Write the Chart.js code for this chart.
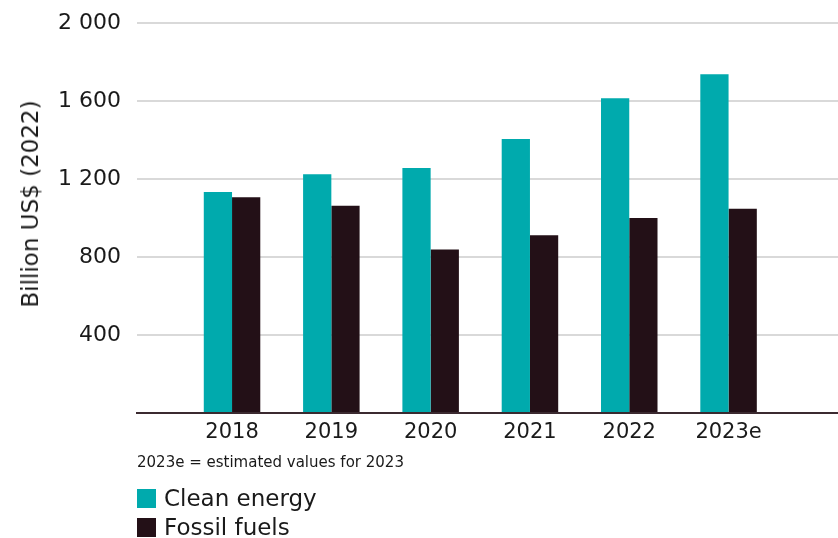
<!DOCTYPE html>
<html>
<head>
<meta charset="utf-8">
<script src="https://cdn.jsdelivr.net/npm/chart.js@4"></script>
<style>
    html, body { margin: 0; padding: 0; background: #fff; }
    #wrap { position: relative; width: 838px; height: 538px; }
    #y-title {
        position: absolute; left: 30px; top: 204px;
        transform: translate(-50%, -50%) rotate(-90deg);
        white-space: nowrap;
        font: 23px "DejaVu Sans", sans-serif; line-height: 28px; color: #1a1a1a;
    }
    #note {
        position: absolute; left: 137px; top: 453px;
        font: 15px "DejaVu Sans", sans-serif; line-height: 18px; color: #1a1a1a;
    }
    #legend { position: absolute; left: 137px; top: 484px; }
    .legend-item {
        display: flex; align-items: center; height: 29px;
        font: 23px "DejaVu Sans", sans-serif; line-height: 29px; color: #1a1a1a;
    }
    .legend-box { width: 19px; height: 19px; margin-right: 8px; }
</style>
</head>
<body>
<div id="wrap">
    <canvas id="chart" width="838" height="538"></canvas>
    <div id="y-title"></div>
    <div id="note"></div>
    <div id="legend"></div>
</div>
<script>
// Dados
const years = ['2018', '2019', '2020', '2021', '2022', '2023e'];
const cleanEnergy = [1133, 1224, 1256, 1405, 1614, 1737];
const fossilFuels = [1106, 1063, 838, 911, 1000, 1048];
const yTicks = [0, 400, 800, 1200, 1600, 2000];
const yTickLabels = ['', '400', '800', '1 200', '1 600', '2 000'];
const yTitle = 'Billion US$ (2022)';
const noteText = '2023e = estimated values for 2023';

const tealColor = '#00aaad';
const darkColor = '#231017';
const textColor = '#1a1a1a';

document.addEventListener('DOMContentLoaded', function () {
    const idx = years.map((y, i) => i);

    const ctx = document.getElementById('chart').getContext('2d');
    const chart = new Chart(ctx, {
        type: 'bar',
        data: {
            datasets: [
                {
                    label: 'Clean energy',
                    data: cleanEnergy.map((v, i) => ({ x: i, y: v })),
                    backgroundColor: tealColor
                },
                {
                    label: 'Fossil fuels',
                    data: fossilFuels.map((v, i) => ({ x: i, y: v })),
                    backgroundColor: darkColor
                }
            ]
        },
        options: {
            responsive: false,
            animation: false,
            categoryPercentage: 0.569,
            barPercentage: 1,
            layout: { padding: { top: 23, right: 0, left: 0, bottom: 83 } },
            plugins: {
                legend: { display: false },
                tooltip: { enabled: false }
            },
            scales: {
                x: {
                    type: 'linear',
                    position: 'bottom',
                    offset: false,
                    min: -0.957,
                    max: 6.102,
                    afterBuildTicks: scale => { scale.ticks = idx.map(v => ({ value: v })); },
                    afterFit: scale => { scale.height = 42; },
                    ticks: {
                        autoSkip: false,
                        maxRotation: 0,
                        padding: 7,
                        color: textColor,
                        font: { family: 'DejaVu Sans', size: 21 },
                        callback: v => years[v]
                    },
                    grid: { display: false, drawTicks: false, offset: false },
                    border: { display: true, color: '#3b2a30', width: 2 }
                },
                y: {
                    min: 0,
                    max: 2000,
                    afterBuildTicks: scale => { scale.ticks = yTicks.map(v => ({ value: v })); },
                    afterFit: scale => { scale.width = 137; scale.paddingTop = 0; },
                    ticks: {
                        padding: 16,
                        color: textColor,
                        font: { family: 'DejaVu Sans', size: 22 },
                        callback: (v, i) => yTickLabels[i]
                    },
                    grid: { color: '#d9d9d9', lineWidth: 2, drawTicks: false },
                    border: { display: false }
                }
            }
        }
    });

    // Título do eixo, nota e legenda em HTML
    document.getElementById('y-title').textContent = yTitle;
    document.getElementById('note').textContent = noteText;

    const legendEl = document.getElementById('legend');
    let legendHTML = '';
    chart.data.datasets.forEach(ds => {
        legendHTML += `
            <div class="legend-item">
                <span class="legend-box" style="background:${ds.backgroundColor}"></span>
                <span>${ds.label}</span>
            </div>
        `;
    });
    legendEl.innerHTML = legendHTML;
});
</script>
</body>
</html>
